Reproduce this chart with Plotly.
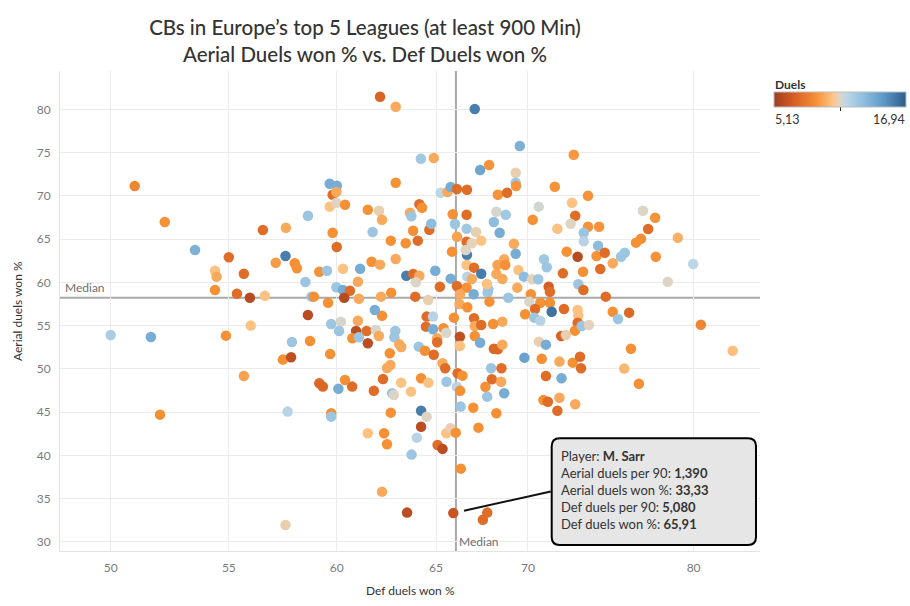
import math
import plotly.graph_objects as go

# ---------------- data ----------------
def_duels_won_pct = [
    50.98, 52.23, 53.52, 55.0, 56.53, 57.59, 57.57, 57.12, 58.0, 58.1,
    54.39, 54.46, 55.67, 54.39, 55.36, 55.94, 56.62, 55.98, 54.87, 50.0,
    51.65, 57.87, 57.45, 57.83, 55.67, 52.03, 57.67,
    62.13, 62.92, 64.21, 64.88, 67.06, 67.35, 59.66, 60.0, 59.8, 59.98,
    59.66, 59.98, 60.4, 58.62, 59.8, 60.0, 61.52, 62.08, 62.23, 62.92,
    61.76, 62.67, 63.43, 64.05, 63.65, 63.72, 64.13, 64.27, 63.81, 64.65,
    64.75, 65.24, 65.6, 65.77, 66.1, 66.64, 65.88, 66.62, 66.0, 66.62,
    66.11, 67.13, 66.62, 66.9, 65.84, 66.64, 66.58,
    69.54, 67.84, 69.31, 69.31, 69.33, 68.32, 68.83, 72.63, 71.53, 73.47,
    70.61, 72.53, 72.72, 70.27, 71.68, 72.45, 73.47, 74.13, 73.22, 73.22,
    74.07, 68.24, 68.76, 68.1, 68.42, 67.41, 69.21, 69.31, 68.67, 70.91,
    72.22, 72.86, 73.98, 74.47, 75.68, 75.45, 76.37, 76.68, 77.12, 76.8,
    77.56, 78.99, 77.6,
    79.97, 80.47, 82.56,
    78.35, 66.62, 67.02, 67.41, 66.66, 66.9, 66.62, 67.0, 67.76, 67.8,
    67.72, 68.24, 68.3, 68.73, 68.57, 69.46, 69.77, 69.4, 68.9, 67.86,
    70.16, 70.23, 70.58, 71.07, 71.18, 71.25, 72.0, 73.18, 74.2, 74.95,
    72.9, 73.2, 74.53, 70.7, 71.25, 70.08, 70.4, 71.35, 72.06, 72.86,
    72.9, 72.86, 72.7, 73.1, 73.53, 74.95, 75.95, 75.27, 69.84, 70.36,
    70.7, 68.57, 68.06, 67.02, 67.06, 67.41, 67.06, 67.35, 68.1, 68.32,
    68.57, 69.8, 70.62, 71.02, 70.78, 71.8, 71.9, 72.17, 72.57, 73.0,
    73.06, 67.95, 68.52, 67.99, 68.5, 67.64, 67.74, 68.67, 66.98, 68.24,
    67.26, 71.02, 71.92, 70.88, 71.13, 71.8, 71.68, 72.72, 76.06, 75.65,
    76.55,
    59.16, 59.53, 60.3, 61.14, 61.71, 62.13, 62.92, 58.5, 59.98, 60.3,
    60.64, 61.03, 58.79, 58.9, 60.36, 61.08, 59.58, 62.18, 62.69, 63.46,
    63.81, 64.13, 63.95, 64.96, 65.77, 66.1, 65.2, 66.27, 63.92, 64.59,
    66.24, 66.66, 65.94, 64.51, 64.84, 64.47, 64.84, 65.39, 65.54, 65.06,
    65.06, 66.26, 66.26, 59.73, 60.2, 60.11, 60.94, 61.46, 61.03, 61.92,
    62.07, 62.9, 62.85, 62.23, 61.87, 60.76, 61.08, 61.52, 58.62, 58.72,
    59.68, 62.62, 63.1, 63.2, 64.1, 64.42, 64.88, 65.34, 65.48, 62.65,
    62.48, 66.14, 66.4, 59.16, 59.33, 60.08, 60.4, 60.75, 61.82, 62.28,
    62.74, 62.83, 63.2, 63.7, 64.22, 64.6, 65.55, 66.1, 66.27, 66.3,
    59.73, 59.73, 62.67, 64.22, 64.51, 64.22, 64.0, 61.52, 62.33, 62.48,
    65.08, 65.34, 65.54, 65.76, 66.04,
    63.73, 66.31, 62.23, 63.5, 65.91, 67.74, 67.5, 57.57,
]

aerial_duels_won_pct = [
    71.14, 66.98, 63.75, 62.9, 66.05, 66.32, 63.05, 62.27, 62.2, 61.63,
    61.35, 60.66, 61.0, 59.12, 58.69, 58.23, 58.46, 55.0, 53.84, 53.92,
    53.69, 53.11, 51.07, 51.34, 49.18, 44.71, 45.06,
    81.46, 80.3, 74.29, 74.37, 80.03, 72.99, 71.4, 71.17, 70.13, 70.44,
    68.75, 69.21, 68.98, 67.7, 65.74, 64.09, 68.4, 68.28, 67.24, 71.52,
    65.82, 64.82, 64.52, 64.82, 68.05, 67.64, 69.02, 68.63, 65.97, 66.09,
    66.78, 70.36, 70.44, 71.02, 70.79, 70.71, 67.87, 67.82, 66.75, 66.2,
    65.28, 65.82, 64.7, 64.52, 63.55, 63.2, 63.74,
    75.76, 73.56, 72.67, 71.52, 71.14, 70.13, 70.36, 74.75, 71.06, 70.02,
    68.75, 69.21, 67.7, 67.24, 66.2, 66.78, 66.43, 66.43, 65.74, 64.75,
    64.24, 68.17, 67.82, 66.98, 65.74, 64.82, 64.47, 63.31, 62.67, 62.67,
    63.55, 62.97, 63.05, 63.43, 63.43, 62.97, 64.59, 65.05, 66.17, 68.28,
    67.47, 65.16, 62.97,
    62.12, 55.11, 52.1,
    60.08, 62.0, 61.7, 61.0, 60.66, 60.39, 59.39, 58.62, 58.81, 59.2,
    59.81, 60.97, 62.0, 62.0, 60.39, 61.42, 60.66, 59.39, 58.23, 57.77,
    58.62, 60.35, 60.35, 61.74, 59.5, 58.92, 61.04, 61.23, 61.54, 62.2,
    59.78, 59.12, 58.35, 57.65, 57.65, 57.77, 56.92, 56.61, 56.92, 56.8,
    56.15, 55.34, 54.42, 54.96, 55.07, 56.61, 56.5, 55.77, 56.31, 55.92,
    55.57, 55.46, 55.19, 55.85, 54.96, 55.07, 53.8, 53.03, 52.33, 52.26,
    52.8, 51.3, 53.15, 52.8, 51.18, 50.84, 53.8, 53.92, 50.72, 51.41,
    50.07, 50.07, 50.07, 48.8, 48.52, 47.94, 46.79, 47.18, 45.52, 44.87,
    43.21, 49.18, 48.92, 46.41, 46.21, 46.67, 45.17, 45.91, 52.33, 50.03,
    48.29,
    61.23, 61.35, 61.58, 61.58, 62.39, 62.05, 62.7, 60.04, 59.43, 59.12,
    59.04, 60.08, 58.35, 58.35, 58.23, 58.11, 57.65, 58.35, 58.81, 60.77,
    60.97, 60.77, 60.01, 61.35, 60.43, 59.58, 59.5, 58.62, 58.35, 57.96,
    57.5, 57.12, 55.92, 56.04, 56.04, 54.88, 54.58, 54.69, 54.18, 53.54,
    53.08, 53.72, 52.65, 55.19, 55.46, 54.38, 54.38, 54.38, 55.57, 54.5,
    53.8, 54.38, 53.65, 56.15, 56.8, 53.54, 53.65, 52.96, 56.23, 53.23,
    51.72, 51.8, 52.84, 52.53, 52.57, 52.1, 51.64, 50.65, 50.07, 50.45,
    50.11, 49.49, 49.22, 48.33, 47.95, 47.71, 48.72, 47.95, 47.48, 48.84,
    47.18, 46.99, 48.41, 47.37, 48.92, 48.41, 48.52, 47.94, 47.48, 45.64,
    44.87, 44.48, 44.94, 45.17, 44.48, 43.32, 42.05, 42.56, 42.56, 41.29,
    41.21, 40.75, 42.56, 43.14, 42.63,
    40.09, 38.47, 35.81, 33.39, 33.33, 33.39, 32.57, 31.96,
]

duels_per90 = [
    8.5, 8.9, 13.8, 7.5, 7.5, 9.6, 15.8, 9.2, 8.9, 8.9,
    10.3, 9.6, 7.5, 8.9, 7.5, 5.9, 10.3, 10.3, 8.9, 12.2,
    14.0, 12.7, 8.9, 6.1, 9.4, 8.9, 11.8,
    7.1, 9.6, 12.5, 9.6, 15.8, 14.3, 14.0, 14.0, 7.5, 9.6,
    10.3, 11.0, 8.9, 12.7, 8.9, 7.5, 8.9, 10.8, 9.6, 8.9,
    12.7, 8.9, 8.9, 7.5, 9.6, 12.7, 7.5, 8.9, 8.9, 7.5,
    13.2, 11.6, 9.6, 14.0, 7.5, 7.5, 8.9, 7.5, 12.7, 12.5,
    9.4, 10.8, 7.5, 10.9, 8.9, 15.8, 11.0,
    13.8, 9.0, 10.8, 12.7, 9.0, 9.0, 7.5, 9.1, 9.0, 9.0,
    11.2, 10.3, 7.5, 8.9, 10.3, 11.0, 9.0, 9.0, 12.7, 11.8,
    13.2, 11.1, 12.5, 13.2, 14.0, 10.3, 9.6, 14.0, 9.6, 12.5,
    8.9, 5.9, 9.0, 7.5, 12.7, 12.7, 8.9, 8.9, 7.5, 11.0,
    9.0, 9.8, 9.0,
    11.6, 8.5, 10.2,
    11.0, 10.3, 7.5, 15.8, 11.8, 9.6, 8.9, 14.0, 12.7, 12.7,
    10.3, 9.6, 9.4, 8.9, 9.6, 10.3, 13.2, 9.6, 12.7, 8.9,
    8.9, 10.9, 12.7, 12.7, 6.9, 7.5, 7.5, 8.9, 7.5, 9.6,
    12.7, 7.5, 7.5, 8.9, 8.9, 11.1, 7.5, 16.2, 7.5, 10.3,
    10.3, 7.5, 8.9, 12.7, 10.9, 8.9, 7.3, 12.7, 8.9, 12.7,
    11.8, 9.6, 8.9, 7.5, 9.6, 7.5, 8.9, 14.0, 7.3, 7.3,
    9.6, 14.5, 10.8, 14.0, 8.9, 9.6, 7.1, 10.8, 8.9, 7.5,
    7.5, 12.7, 7.5, 7.5, 9.6, 8.9, 12.7, 14.0, 8.9, 8.9,
    8.9, 7.5, 14.0, 8.9, 7.5, 9.6, 7.5, 9.6, 8.9, 10.0,
    8.9,
    8.9, 12.7, 10.3, 14.0, 8.9, 9.6, 9.6, 12.7, 12.7, 14.0,
    7.5, 9.6, 12.7, 8.9, 5.9, 9.6, 8.9, 9.6, 8.9, 15.8,
    7.5, 9.6, 11.0, 14.0, 14.0, 7.5, 7.5, 9.6, 7.5, 10.8,
    9.6, 8.9, 8.9, 7.5, 11.8, 7.5, 14.0, 8.9, 11.1, 9.6,
    7.5, 6.2, 10.3, 12.7, 11.1, 12.7, 6.0, 7.5, 9.6, 11.1,
    9.6, 12.7, 12.7, 8.9, 14.0, 8.9, 12.7, 6.0, 6.0, 8.9,
    8.9, 8.9, 9.6, 9.6, 12.7, 8.9, 7.5, 9.6, 7.5, 9.6,
    9.6, 7.5, 8.9, 7.3, 7.3, 14.0, 8.9, 7.5, 7.5, 7.5,
    12.7, 11.0, 10.3, 10.3, 8.9, 10.3, 12.7, 11.8, 8.9, 12.7,
    8.9, 12.7, 8.9, 15.8, 11.0, 6.0, 11.8, 10.3, 8.9, 8.9,
    7.5, 6.0, 10.3, 10.8, 8.9,
    12.7, 8.9, 9.6, 6.0, 6.47, 7.5, 7.5, 10.8,
]

assert len(def_duels_won_pct) == len(aerial_duels_won_pct) == len(duels_per90)

duels_min, duels_max = 5.13, 16.94
median_def_won = 66.05
median_aerial_won = 58.23
x_ticks = [50, 55, 60, 65, 70, 80]

# highlighted player (tooltip)
hl_player = "M. Sarr"
hl_aerial_p90 = 1.390
hl_aerial_won = 33.33
hl_def_p90 = 5.080
hl_def_won = 65.91

# ---------------- styling ----------------
FONT = "Lato"
colorscale = [
    [0.0, "#9e3d22"], [0.14, "#d45b21"], [0.32, "#f69035"], [0.45, "#fdc78a"],
    [0.5, "#dcd5c8"], [0.55, "#bcd6e6"], [0.67, "#91c0e0"], [0.83, "#5e98c8"],
    [1.0, "#2b5c8a"],
]

W, H = 910, 606
L, R, T, B = 60, 150, 71, 55
PW, PH = W - L - R, H - T - B


def px(xp):
    return (xp - L) / PW


def py(yp):
    return (H - B - yp) / PH


def fmt(v, d):
    return f"{v:.{d}f}".replace(".", ",")


fig = go.Figure(
    go.Scatter(
        x=def_duels_won_pct,
        y=aerial_duels_won_pct,
        mode="markers",
        hoverinfo="skip",
        marker=dict(
            size=10.5,
            color=duels_per90,
            cmin=duels_min,
            cmax=duels_max,
            colorscale=colorscale,
            line=dict(width=0),
            colorbar=dict(
                orientation="h",
                x=px(840), xanchor="center",
                y=py(101.5), yanchor="middle",
                len=132, lenmode="pixels",
                thickness=15,
                xpad=0, ypad=0,
                outlinewidth=1, outlinecolor="#bdbdbd",
                tickvals=[(duels_min + duels_max) / 2],
                ticks="outside", ticklen=4, tickcolor="#222",
                showticklabels=False,
            ),
        ),
    )
)

axis_common = dict(
    showgrid=True, gridcolor="#ebebeb", gridwidth=1,
    zeroline=False, showline=True, linecolor="#e3e3e3", linewidth=1,
    ticks="", tickfont=dict(family=FONT, size=12, color="#7a7a7a"),
    ticklabelstandoff=6,
)

fig.update_layout(
    width=W, height=H,
    margin=dict(l=L, r=R, t=T, b=B, pad=0, autoexpand=False),
    paper_bgcolor="white", plot_bgcolor="white",
    font=dict(family=FONT, color="#333333"),
    showlegend=False,
    title=dict(
        text="CBs in Europe’s top 5 Leagues (at least 900 Min)<br>Aerial Duels won % vs. Def Duels won %",
        x=365 / W, xref="container", xanchor="center",
        y=1 - 35 / H, yref="container", yanchor="middle",
        font=dict(family=FONT, size=20.5, color="#333333", weight=500),
    ),
    xaxis=dict(
        type="log",
        range=[math.log10(48.0), math.log10(84.4)],
        tickvals=x_ticks, ticktext=[str(t) for t in x_ticks],
        **axis_common,
    ),
    yaxis=dict(
        range=[28.95, 84.43], tick0=30, dtick=5,
        **axis_common,
    ),
)

# median reference lines
fig.add_shape(type="line", xref="paper", x0=0, x1=1, yref="y",
              y0=median_aerial_won, y1=median_aerial_won,
              line=dict(color="#a9a9a9", width=2), layer="below")
fig.add_shape(type="line", xref="x", x0=median_def_won, x1=median_def_won,
              yref="paper", y0=0, y1=1,
              line=dict(color="#a9a9a9", width=2), layer="below")

annots = []
annots.append(dict(text="Median", xref="paper", x=0.004, xanchor="left",
                   yref="y", y=median_aerial_won, yanchor="bottom", yshift=1,
                   showarrow=False, font=dict(family=FONT, size=12, color="#6e6e6e")))
annots.append(dict(text="Median", xref="x", x=math.log10(median_def_won), xanchor="left", xshift=1,
                   yref="paper", y=py(541.7), yanchor="middle",
                   showarrow=False, font=dict(family=FONT, size=12, color="#6e6e6e")))

# axis titles
annots.append(dict(text="Def duels won %", xref="paper", x=px(410), xanchor="center",
                   yref="paper", y=py(590.5), yanchor="middle", showarrow=False,
                   font=dict(family=FONT, size=12, color="#333333")))
annots.append(dict(text="Aerial duels won %", xref="paper", x=px(17), xanchor="center",
                   yref="paper", y=py(311), yanchor="middle", textangle=-90, showarrow=False,
                   font=dict(family=FONT, size=12, color="#333333")))

# legend labels
annots.append(dict(text="<b>Duels</b>", xref="paper", x=px(773), xanchor="left",
                   yref="paper", y=py(84), yanchor="middle", showarrow=False,
                   font=dict(family=FONT, size=12, color="#333333")))
annots.append(dict(text=fmt(duels_min, 2), xref="paper", x=px(773), xanchor="left",
                   yref="paper", y=py(120), yanchor="middle", showarrow=False,
                   font=dict(family=FONT, size=12.5, color="#333333")))
annots.append(dict(text=fmt(duels_max, 2), xref="paper", x=px(907), xanchor="right",
                   yref="paper", y=py(120), yanchor="middle", showarrow=False,
                   font=dict(family=FONT, size=12.5, color="#333333")))

# tooltip
tip = (f"Player: <b>{hl_player}</b><br>"
       f"Aerial duels per 90: <b>{fmt(hl_aerial_p90, 3)}</b><br>"
       f"Aerial duels won %: <b>{fmt(hl_aerial_won, 2)}</b><br>"
       f"Def duels per 90: <b>{fmt(hl_def_p90, 3)}</b><br>"
       f"Def duels won %: <b>{fmt(hl_def_won, 2)}</b>")
annots.append(dict(text=tip, xref="paper", x=px(559), xanchor="left",
                   yref="paper", y=py(446), yanchor="top", align="left", showarrow=False,
                   font=dict(family=FONT, size=13, color="#333333")))
annots.append(dict(text="", xref="x", x=math.log10(hl_def_won), yref="y", y=hl_aerial_won,
                   showarrow=True, arrowhead=0, arrowwidth=2, arrowcolor="#111111",
                   ax=99, ay=-22, standoff=11))
fig.update_layout(annotations=annots)

# rounded tooltip box
x0, x1, y0, y1 = px(551.7), px(756), py(545), py(438.3)
rx, ry = 8 / PW, 8 / PH
path = (f"M {x0+rx},{y0} L {x1-rx},{y0} Q {x1},{y0} {x1},{y0+ry} "
        f"L {x1},{y1-ry} Q {x1},{y1} {x1-rx},{y1} L {x0+rx},{y1} Q {x0},{y1} {x0},{y1-ry} "
        f"L {x0},{y0+ry} Q {x0},{y0} {x0+rx},{y0} Z")
fig.add_shape(type="path", path=path, xref="paper", yref="paper",
              fillcolor="#e6e6e6", line=dict(color="#000000", width=2), layer="above")

fig.write_html("out.html", config={"displayModeBar": False},
               post_script="document.body.style.margin='0';document.body.style.padding='0';")
